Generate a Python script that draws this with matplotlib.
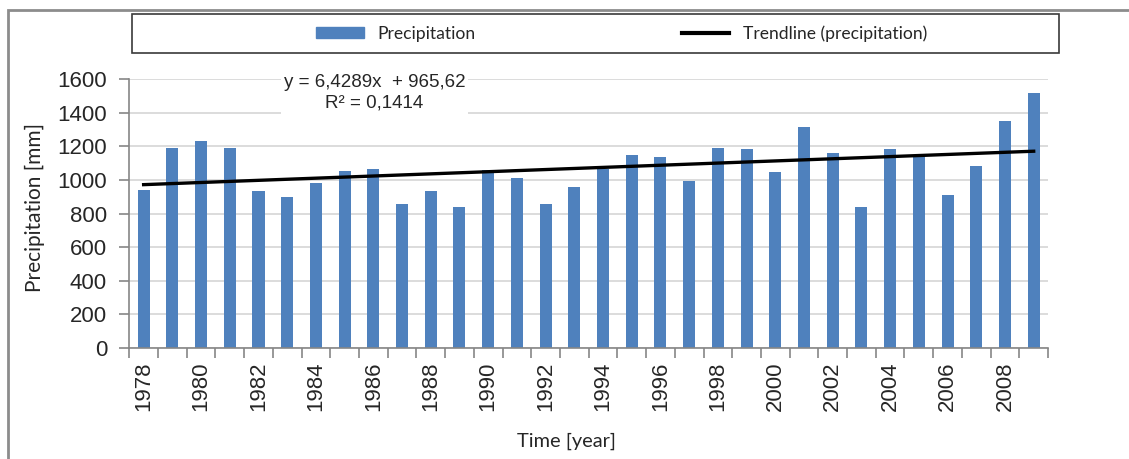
import numpy as np
import matplotlib
matplotlib.use("Agg")
import matplotlib.pyplot as plt
from matplotlib.patches import Rectangle
from matplotlib.lines import Line2D

# data
years = list(range(1978, 2010))
precip = [940, 1192, 1230, 1192, 932, 900, 980, 1055, 1063, 857,
          932, 840, 1059, 1010, 855, 956, 1065, 1147, 1139, 994,
          1192, 1184, 1047, 1314, 1161, 840, 1184, 1150, 908, 1085,
          1351, 1518]
slope = 6.4289
intercept = 965.62
r2 = 0.1414

bar_color = '#4f81bd'
axis_gray = '#868686'
grid_gray = '#d9d9d9'
txt = '#262626'

fig = plt.figure(figsize=(11.29, 4.59), dpi=100)
ax = fig.add_axes([0.1145, 0.2425, 0.8138, 0.5847])

x = np.array(years)
ax.bar(x, precip, width=0.42, color=bar_color, zorder=2)

# linear trendline (Excel style, x = 1..n)
idx = np.arange(1, len(years) + 1)
trend = slope * idx + intercept
ax.plot(x, trend, color='black', lw=2.4, zorder=3)

ax.set_xlim(years[0] - 0.5, years[-1] + 0.5)
ax.set_ylim(0, 1600)
ax.set_yticks(range(0, 1601, 200))
ax.yaxis.grid(True, color=grid_gray, lw=1.3, zorder=0)
ax.set_axisbelow(True)

ax.set_xticks([y for y in years if y % 2 == 0])
ax.set_xticks(np.arange(years[0] - 0.5, years[-1] + 1), minor=True)
ax.tick_params(axis='x', which='major', length=0, pad=10, labelrotation=90)
ax.tick_params(axis='x', which='minor', length=7, color=axis_gray, width=1.2)
ax.tick_params(axis='y', length=7, color=axis_gray, width=1.2, pad=9)
ax.tick_params(labelsize=16, labelcolor=txt)
for lab in ax.get_xticklabels() + ax.get_yticklabels():
    lab.set_fontfamily('Liberation Sans')

for s in ['top', 'right']:
    ax.spines[s].set_visible(False)
for s in ['left', 'bottom']:
    ax.spines[s].set_color(axis_gray)
    ax.spines[s].set_linewidth(1.2)

ax.set_ylabel('Precipitation [mm]', fontsize=15, family='Lato', color=txt)
ax.set_xlabel('Time [year]', fontsize=14.4, family='Lato', color=txt)
ax.yaxis.set_label_coords(-0.0918, 0.524)
ax.xaxis.set_label_coords(0.4764, -0.318)

eq = f'y = {slope:.4f}x  + {intercept:.2f}'.replace('.', ',')
rr = f'R² = {r2:.4f}'.replace('.', ',')
ax.text(0.267, 0.95, eq + '\n' + rr, transform=ax.transAxes, ha='center', va='center',
        fontsize=13.5, family='Liberation Sans', color=txt, linespacing=1.3,
        bbox=dict(facecolor='white', edgecolor='none', pad=2), zorder=5, clip_on=False)

# legend
W, H = 1129, 459
fig.patches.append(Rectangle((132 / W, 1 - 53 / H), (1059 - 132) / W, 39 / H,
                             transform=fig.transFigure, facecolor='white',
                             edgecolor='#3a3a3a', lw=1.2))
handles = [Rectangle((0, 0), 1, 1, color=bar_color),
           Line2D([], [], color='black', lw=3)]
fig.legend(handles, ['Precipitation', 'Trendline (precipitation)'], ncol=2,
           loc='center', bbox_to_anchor=(622 / W, 1 - 33.5 / H), frameon=False,
           prop={'family': 'Lato', 'size': 12.6}, handlelength=2.7, handleheight=0.6,
           handletextpad=0.8, columnspacing=11.8, labelcolor=txt)

# outer chart border (only top and left edges visible)
fig.patches.append(Rectangle((8 / W, -0.5), 2.0, 1.5 - 10 / H,
                             transform=fig.transFigure, facecolor='none',
                             edgecolor='#8c8c8c', lw=2))

fig.savefig('out.png', dpi=100)
